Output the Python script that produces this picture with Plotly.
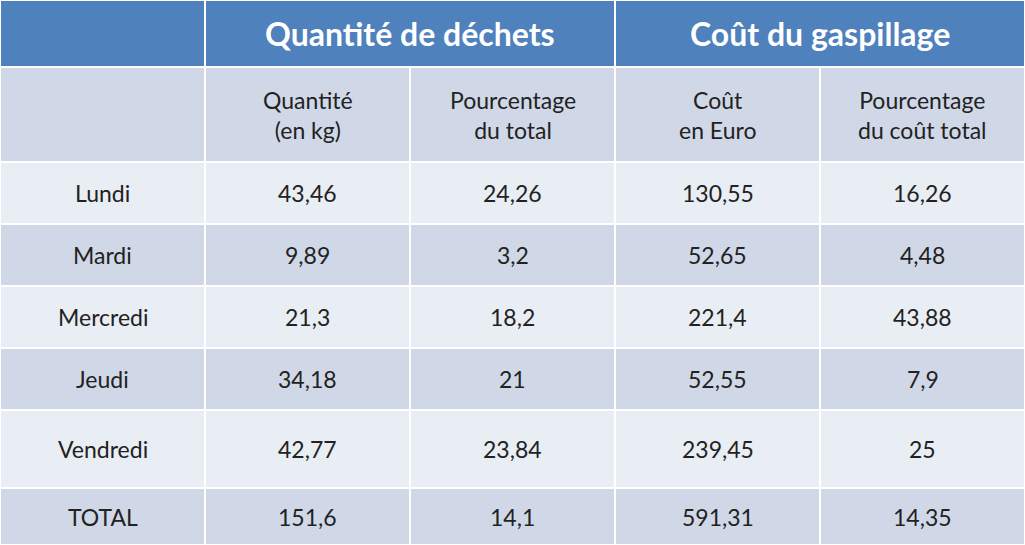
import plotly.graph_objects as go

# data
groups = ["Quantité de déchets", "Coût du gaspillage"]
sub_headers = ["", "Quantité<br>(en kg)", "Pourcentage<br>du total", "Coût<br>en Euro", "Pourcentage<br>du coût total"]
days = ["Lundi", "Mardi", "Mercredi", "Jeudi", "Vendredi", "TOTAL"]
quantite = ["43,46", "9,89", "21,3", "34,18", "42,77", "151,6"]
pct_total = ["24,26", "3,2", "18,2", "21", "23,84", "14,1"]
cout = ["130,55", "52,65", "221,4", "52,55", "239,45", "591,31"]
pct_cout = ["16,26", "4,48", "43,88", "7,9", "25", "14,35"]

W, H = 1025, 545
col_edges = [0, 205, 410, 615, 820, 1025]
row_edges = [0, 67, 162, 224, 286, 348, 410, 488, 545]
dark = "#4F81BD"
row_colors = ["#D0D8E8", "#E9EDF4"]
font = "Lato, 'Open Sans', sans-serif"

fig = go.Figure()
shapes = []
ann = []

def cell(x0, x1, y0, y1, color):
    shapes.append(dict(type="rect", x0=x0, x1=x1, y0=y0, y1=y1, fillcolor=color,
                       line=dict(color="white", width=2), layer="below"))

def text(x0, x1, y0, y1, t, size=23, color="#222", bold=False):
    ann.append(dict(x=(x0 + x1) / 2, y=(y0 + y1) / 2, text=f"<b>{t}</b>" if bold else t,
                    showarrow=False, font=dict(family=font, size=size, color=color),
                    xanchor="center", yanchor="middle"))

# top header
cell(0, 205, 0, 67, dark)
cell(205, 615, 0, 67, dark)
cell(615, 1025, 0, 67, dark)
text(205, 615, 0, 67, groups[0], size=32, color="white", bold=True)
text(615, 1025, 0, 67, groups[1], size=32, color="white", bold=True)

# sub header
for i, h in enumerate(sub_headers):
    cell(col_edges[i], col_edges[i + 1], 67, 162, "#D0D8E8")
    text(col_edges[i], col_edges[i + 1], 67, 162, h)

# body
cols = [days, quantite, pct_total, cout, pct_cout]
for r in range(len(days)):
    y0, y1 = row_edges[r + 2], row_edges[r + 3]
    for c, vals in enumerate(cols):
        cell(col_edges[c], col_edges[c + 1], y0, y1, row_colors[(r + 1) % 2])
        text(col_edges[c], col_edges[c + 1], y0, y1, vals[r])

fig.add_trace(go.Scatter(x=[0, W], y=[0, H], mode="markers", marker=dict(opacity=0),
                         hoverinfo="skip", showlegend=False))
fig.update_layout(width=W, height=H, margin=dict(l=0, r=0, t=0, b=0),
                  paper_bgcolor="white", plot_bgcolor="white",
                  shapes=shapes, annotations=ann,
                  xaxis=dict(range=[0, W], visible=False, fixedrange=True),
                  yaxis=dict(range=[H, 0], visible=False, fixedrange=True))
fig.write_html("out.html", config={"displayModeBar": False},
               post_script="document.body.style.margin='0';document.body.style.overflow='hidden';")
